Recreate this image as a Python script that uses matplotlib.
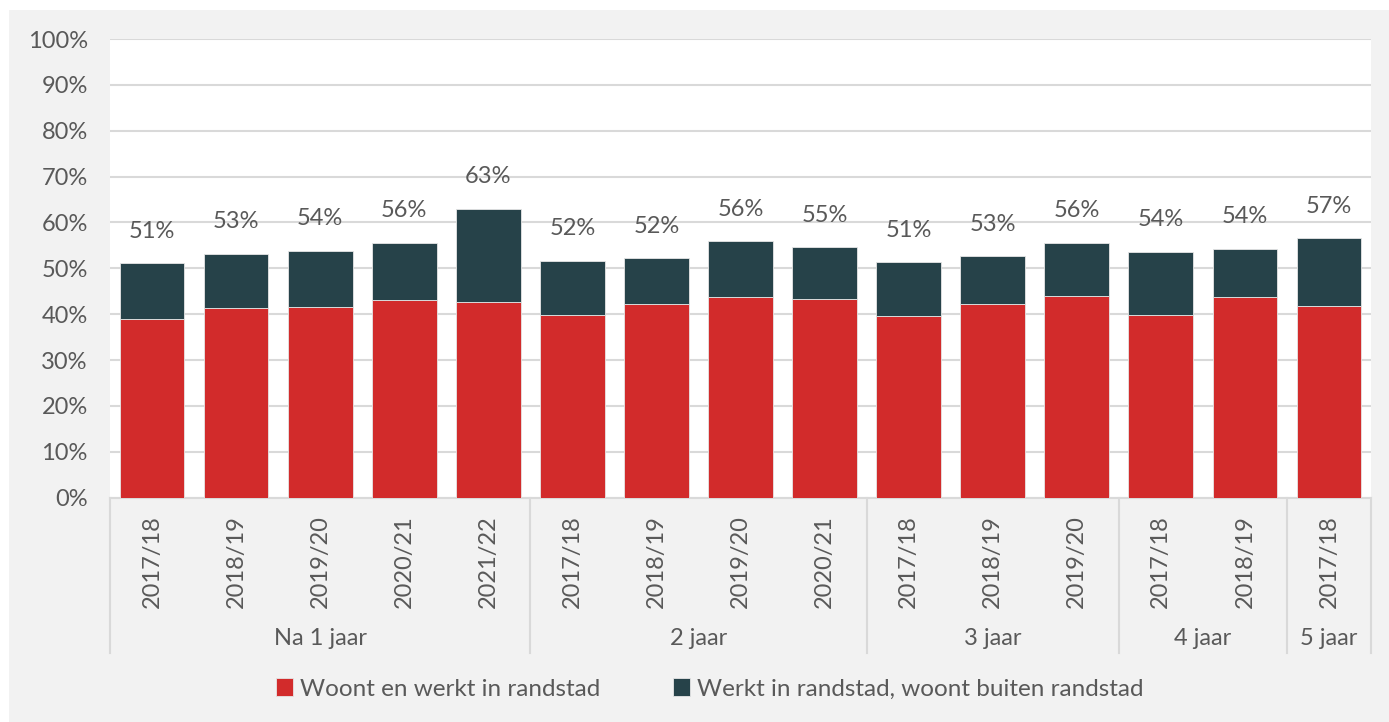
import matplotlib.pyplot as plt
import numpy as np
from matplotlib.patches import Rectangle

plt.rcParams['font.family'] = ['Lato', 'DejaVu Sans']

# data
groups = ['Na 1 jaar', '2 jaar', '3 jaar', '4 jaar', '5 jaar']
group_sizes = [5, 4, 3, 2, 1]
years = ['2017/18', '2018/19', '2019/20', '2020/21', '2021/22',
         '2017/18', '2018/19', '2019/20', '2020/21',
         '2017/18', '2018/19', '2019/20',
         '2017/18', '2018/19',
         '2017/18']
woont = [38.9, 41.4, 41.6, 43.0, 42.6, 39.8, 42.2, 43.8, 43.4, 39.6, 42.2, 43.9, 39.8, 43.7, 41.9]
totaal = [51.1, 53.2, 53.8, 55.6, 63.0, 51.7, 52.2, 55.9, 54.6, 51.3, 52.6, 55.6, 53.6, 54.3, 56.6]
buiten = [t - w for t, w in zip(totaal, woont)]

red = '#D22B2B'
dark = '#264249'
grey_txt = '#595959'
grid_c = '#d9d9d9'
fs = 17

fig = plt.figure(figsize=(13.89, 7.22), dpi=100)
fig.patches.append(Rectangle((9 / 1389, 0), 1 - 9 / 1389, 1 - 10 / 722,
                             transform=fig.transFigure, facecolor='#f2f2f2',
                             edgecolor='none', zorder=-10))

ax = fig.add_axes([110 / 1389, 224.3 / 722, (1371 - 110) / 1389, (497.7 - 39) / 722])
ax.set_facecolor('white')

x = np.arange(len(years))
ax.bar(x, woont, width=0.77, color=red, edgecolor='#e6e6e6', linewidth=0.6,
       label='Woont en werkt in randstad', zorder=3)
ax.bar(x, buiten, width=0.77, bottom=woont, color=dark, edgecolor='#e6e6e6', linewidth=0.6,
       label='Werkt in randstad, woont buiten randstad', zorder=3)

for xi, t in zip(x, totaal):
    ax.annotate(f'{round(t)}%', (xi, t), xytext=(0, 23), textcoords='offset points',
                ha='center', va='center', fontsize=fs, color=grey_txt)

ax.set_ylim(0, 100)
ax.set_xlim(-0.5, len(years) - 0.5)
ax.set_yticks(np.arange(0, 101, 10))
ax.set_yticklabels([f'{v}%' for v in range(0, 101, 10)])
ax.tick_params(axis='y', length=0, pad=16, labelsize=fs, labelcolor=grey_txt)
ax.set_xticks([])
ax.grid(axis='y', color=grid_c, linewidth=1.5, zorder=0)
for s in ['left', 'right', 'top']:
    ax.spines[s].set_visible(False)
ax.spines['bottom'].set_color(grid_c)
ax.spines['bottom'].set_linewidth(1.5)

# year labels
for xi, yr in zip(x, years):
    ax.annotate(yr, (xi, 0), xycoords=('data', 'axes fraction'), xytext=(0, -12.5),
                textcoords='offset points', rotation=90, ha='center', va='top',
                fontsize=fs, color=grey_txt)

# group labels and separators
trans = ax.get_xaxis_transform()
start = 0
bounds = [-0.5]
for g, n in zip(groups, group_sizes):
    mid = start + (n - 1) / 2
    ax.annotate(g, (mid, 0), xycoords=('data', 'axes fraction'), xytext=(0, -101.7),
                textcoords='offset points', ha='center', va='center',
                fontsize=fs, color=grey_txt)
    start += n
    bounds.append(start - 0.5)
for b in bounds:
    ax.plot([b, b], [0, -0.339], transform=trans, color=grid_c, linewidth=1.5, clip_on=False)

fig.legend(loc='center', bbox_to_anchor=(0.511, 1 - 689 / 722), ncol=2, frameon=False,
           fontsize=17.5, labelcolor=grey_txt, handlelength=0.7, handleheight=0.7,
           handletextpad=0.3, columnspacing=3.0)

fig.savefig('out.png', dpi=100)
